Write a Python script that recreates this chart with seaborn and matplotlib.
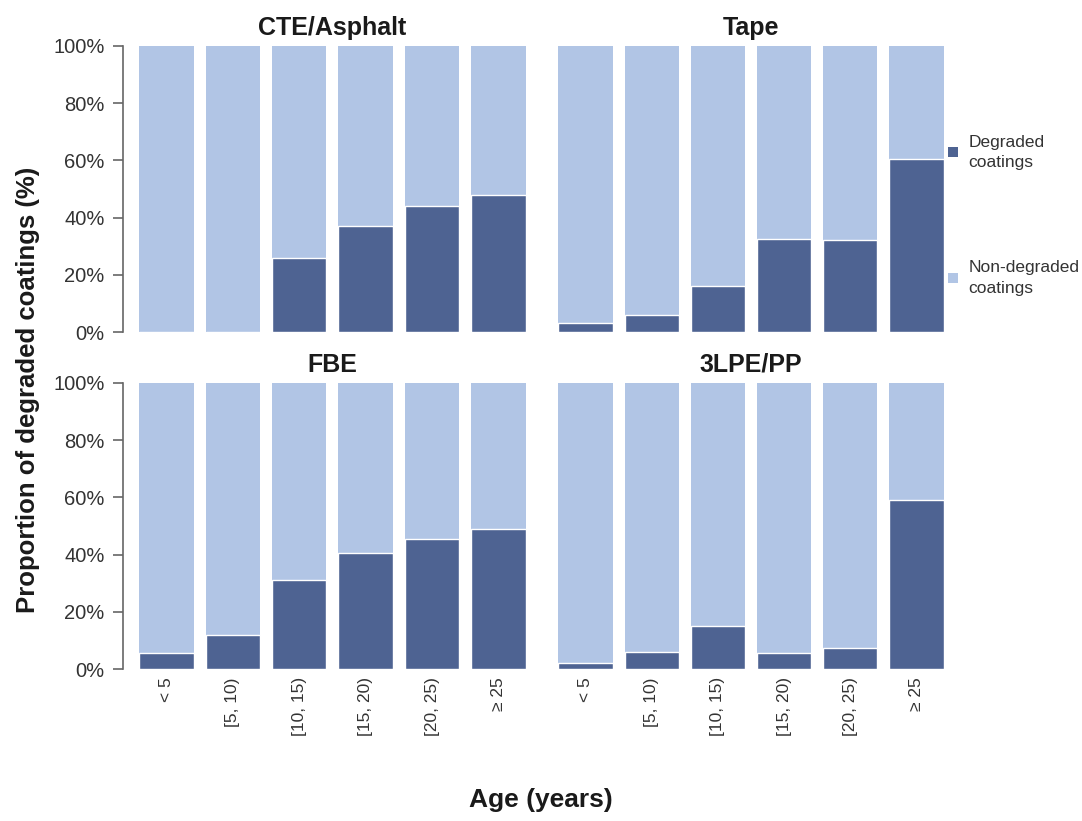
import matplotlib
matplotlib.use("Agg")
import matplotlib.pyplot as plt
from matplotlib.patches import Patch
from matplotlib.ticker import FuncFormatter
import seaborn as sns
import pandas as pd

# Age classes and share of degraded coatings (%) per coating type
age_classes = ["< 5", "[5, 10)", "[10, 15)", "[15, 20)", "[20, 25)", "\u2265 25"]
cte_asphalt = [0, 0, 26, 37, 44, 48]
tape = [3, 6, 16, 32.5, 32, 60.5]
fbe = [5.5, 12, 31, 40.5, 45.5, 49]
lpe_pp = [2, 6, 15, 5.5, 7.5, 59]

panels = [("CTE/Asphalt", cte_asphalt), ("Tape", tape),
          ("FBE", fbe), ("3LPE/PP", lpe_pp)]

dark = "#4e6392"
light = "#b1c5e5"
text_col = "#333333"
axis_col = "#666666"

sns.set_theme(style="white")
plt.rcParams["font.family"] = ["Liberation Sans", "DejaVu Sans"]

fig = plt.figure(figsize=(10.82, 8.21), dpi=100)
boxes = [
    (0.1275, 0.5956, 0.3595, 0.3484),
    (0.5148, 0.5956, 0.3586, 0.3484),
    (0.1275, 0.1851, 0.3595, 0.3484),
    (0.5148, 0.1851, 0.3586, 0.3484),
]

for i, ((title, degraded), box) in enumerate(zip(panels, boxes)):
    ax = fig.add_axes(box)
    df = pd.DataFrame({"age": age_classes,
                       "total": [100] * len(age_classes),
                       "degraded": degraded})
    sns.barplot(data=df, x="age", y="total", color=light, width=0.82,
                saturation=1, ax=ax, edgecolor="none")
    sns.barplot(data=df, x="age", y="degraded", color=dark, width=0.82,
                saturation=1, ax=ax, edgecolor="white", linewidth=1.0)
    ax.set_xlim(-0.43, 5.43)
    ax.set_ylim(0, 100)
    ax.set_yticks([0, 20, 40, 60, 80, 100])
    ax.yaxis.set_major_formatter(FuncFormatter(lambda v, p: f"{v:.0f}%"))
    ax.set_xlabel("")
    ax.set_ylabel("")
    ax.set_title(title, fontsize=18, fontweight="bold", color="#1a1a1a", pad=8)
    for s in ax.spines.values():
        s.set_visible(False)
    ax.tick_params(axis="x", length=0, labelsize=12.5, colors=text_col, pad=6)
    if i % 2 == 0:
        # offset left axis line with outward ticks
        ax.spines["left"].set_visible(True)
        ax.spines["left"].set_position(("outward", 11))
        ax.spines["left"].set_color(axis_col)
        ax.spines["left"].set_linewidth(1.2)
        ax.tick_params(axis="y", left=True, length=7, width=1.2, color=axis_col,
                       labelsize=14.5, labelcolor=text_col, pad=6)
    else:
        ax.tick_params(axis="y", left=False, length=0)
        ax.set_yticklabels([])
    if i < 2:
        ax.set_xticklabels([])
    else:
        ax.set_xticks(range(len(age_classes)))
        ax.set_xticklabels(age_classes, rotation=90, fontsize=12.5, color=text_col)

fig.text(0.026, 0.525, "Proportion of degraded coatings (%)", rotation=90,
         ha="center", va="center", fontsize=18.5, fontweight="bold", color="#1a1a1a")
fig.text(0.50, 0.025, "Age (years)", ha="center", va="center",
         fontsize=19, fontweight="bold", color="#1a1a1a")

handles = [Patch(facecolor=dark, edgecolor="none"),
           Patch(facecolor=light, edgecolor="none")]
leg = fig.legend(handles, ["Degraded\ncoatings", "Non-degraded\ncoatings"],
                 loc="upper left", bbox_to_anchor=(0.862, 0.855), frameon=False,
                 fontsize=12.5, labelspacing=5.2, handlelength=0.55,
                 handleheight=0.55, handletextpad=0.6, labelcolor=text_col)
for t in leg.get_texts():
    t.set_linespacing(1.45)

fig.savefig("out.png", dpi=100, facecolor="white")
